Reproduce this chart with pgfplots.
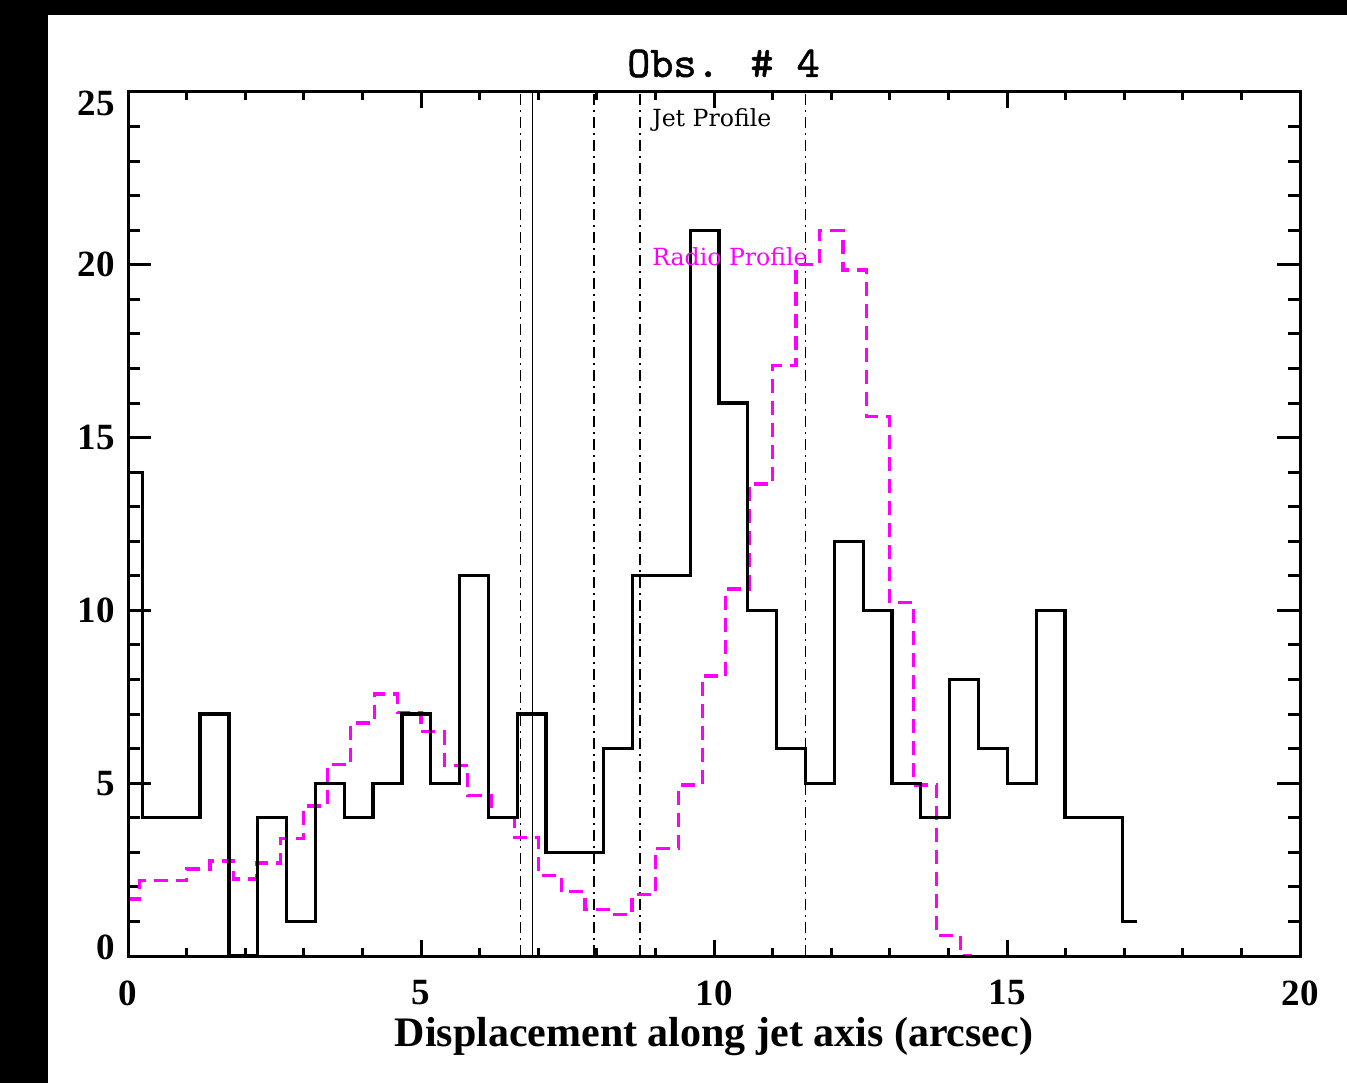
\documentclass[border=0pt]{standalone}
\usepackage{pgfplots}
\usepackage{pgfplotstable}
\pgfplotsset{compat=1.18}
\usepackage{fontspec}
\setmainfont{Liberation Serif}
\newfontfamily\notefont{DejaVu Serif}
\newfontfamily\titlefont[FakeBold=1.2]{lmmono10-regular.otf}
\definecolor{radio}{RGB}{255,0,255}

% X-ray counts per 0.492" bin along the jet
\pgfplotstableread{
x      y
0.000  14
0.492  4
0.984  4
1.476  7
1.968  0
2.460  4
2.952  1
3.444  5
3.936  4
4.428  5
4.920  7
5.412  5
5.904  11
6.396  4
6.888  7
7.380  3
7.872  3
8.364  6
8.856  11
9.348  11
9.840  21
10.332 16
10.824 10
11.316 6
11.808 5
12.300 12
12.792 10
13.284 5
13.776 4
14.268 8
14.760 6
15.252 5
15.744 10
16.236 4
16.728 4
17.220 1
}\jetprofile

% scaled radio brightness per 0.4" bin
\pgfplotstableread{
x     y
0.0   1.65
0.4   2.18
0.8   2.18
1.2   2.52
1.6   2.75
2.0   2.23
2.4   2.69
2.8   3.39
3.2   4.34
3.6   5.53
4.0   6.74
4.4   7.58
4.8   7.04
5.2   6.49
5.6   5.51
6.0   4.64
6.4   4.00
6.8   3.42
7.2   2.33
7.6   1.86
8.0   1.35
8.4   1.20
8.8   1.77
9.2   3.12
9.6   4.95
10.0  8.10
10.4  10.62
10.8  13.66
11.2  17.08
11.6  20.00
12.0  21.00
12.4  19.85
12.8  15.60
13.2  10.22
13.6  4.95
14.0  0.60
14.4  0.00
}\radioprofile

\pgfplotsset{
  frame/.style={
    scale only axis,
    width=586pt, height=432pt,
    xmin=0, xmax=20, ymin=0, ymax=25,
    at={(64pt,63.5pt)}, anchor=south west,
    axis line style={line width=1.5pt},
    every tick/.style={black, line width=1.5pt},
    tick align=inside,
    xtick pos=both, ytick pos=both,
    /pgf/number format/assume math mode=true,
    ticklabel style={font=\fontsize{18.5pt}{18.5pt}\selectfont\bfseries, inner sep=0pt},
  },
}

\begin{document}
\begin{tikzpicture}
\useasboundingbox (0,0) rectangle (673.5pt,541.5pt);
\fill[white] (0,0) rectangle (673.5pt,541.5pt);

\begin{axis}[
  frame,
  xtick=\empty,
  ytick={0,5,10,15,20,25},
  yticklabels={\raisebox{4.5pt}[\height][\depth]{0},5,10,15,20,\raisebox{-5.75pt}[\height][\depth]{25}},
  minor y tick num=4,
  major tick length=11.5pt, minor tick length=6pt,
  yticklabel style={anchor=east, xshift=-6.5pt},
  title={Obs. \# 4},
  every axis title shift=0pt,
  title style={font=\fontsize{22pt}{22pt}\selectfont\titlefont,
    at={(axis description cs:0.5081,1.0174)}, anchor=base, yshift=0pt, inner sep=0pt},
  xlabel={Displacement along jet axis (arcsec)},
  xlabel style={font=\fontsize{21pt}{21pt}\selectfont\bfseries,
    at={(axis description cs:0.5,-0.105)}, anchor=base, inner sep=0pt},
  ylabel={Counts/bin},
  ylabel style={font=\fontsize{21pt}{21pt}\selectfont\bfseries,
    at={(axis description cs:-0.0691,0.5)}, anchor=base, inner sep=0pt},
]
  % extraction region boundaries
  \addplot[black, line width=0.75pt, dash pattern=on 5.5pt off 2.5pt on 1pt off 2.5pt]
    coordinates {(6.70,0) (6.70,25)};
  \addplot[black, line width=0.75pt] coordinates {(6.90,0) (6.90,25)};
  \addplot[black, line width=0.75pt, dash pattern=on 5.5pt off 2.5pt on 1pt off 2.5pt]
    coordinates {(7.95,0) (7.95,25)};
  \addplot[black, line width=0.75pt, dash pattern=on 5.5pt off 2.5pt on 1pt off 2.5pt]
    coordinates {(8.74,0) (8.74,25)};
  \addplot[black, line width=0.75pt, dash pattern=on 5.5pt off 2.5pt on 1pt off 2.5pt]
    coordinates {(11.56,0) (11.56,25)};

  % profiles
  \addplot[radio, line width=1.6pt, dash pattern=on 7pt off 4pt, const plot mark mid]
    table[x=x, y=y] {\radioprofile};
  \addplot[black, line width=1.6pt, const plot mark mid]
    table[x=x, y=y] {\jetprofile};

  \node[anchor=base west, inner sep=0pt, font=\fontsize{11.8pt}{11.8pt}\selectfont\notefont]
    at (axis cs:8.94,24.0) {Jet Profile};
  \node[anchor=base west, inner sep=0pt, text=radio, font=\fontsize{11.8pt}{11.8pt}\selectfont\notefont]
    at (axis cs:8.94,19.97) {Radio Profile};
\end{axis}

\begin{axis}[
  frame,
  ytick=\empty,
  xtick={0,5,10,15,20},
  minor x tick num=4,
  major tick length=8pt, minor tick length=4pt,
  xticklabel style={anchor=north, yshift=-12pt},
]
\end{axis}

% dark margins along the top and left edges
\fill[black] (0,534pt) rectangle (673.5pt,541.5pt);
\fill[black] (0,0) rectangle (24pt,541.5pt);
\end{tikzpicture}
\end{document}
